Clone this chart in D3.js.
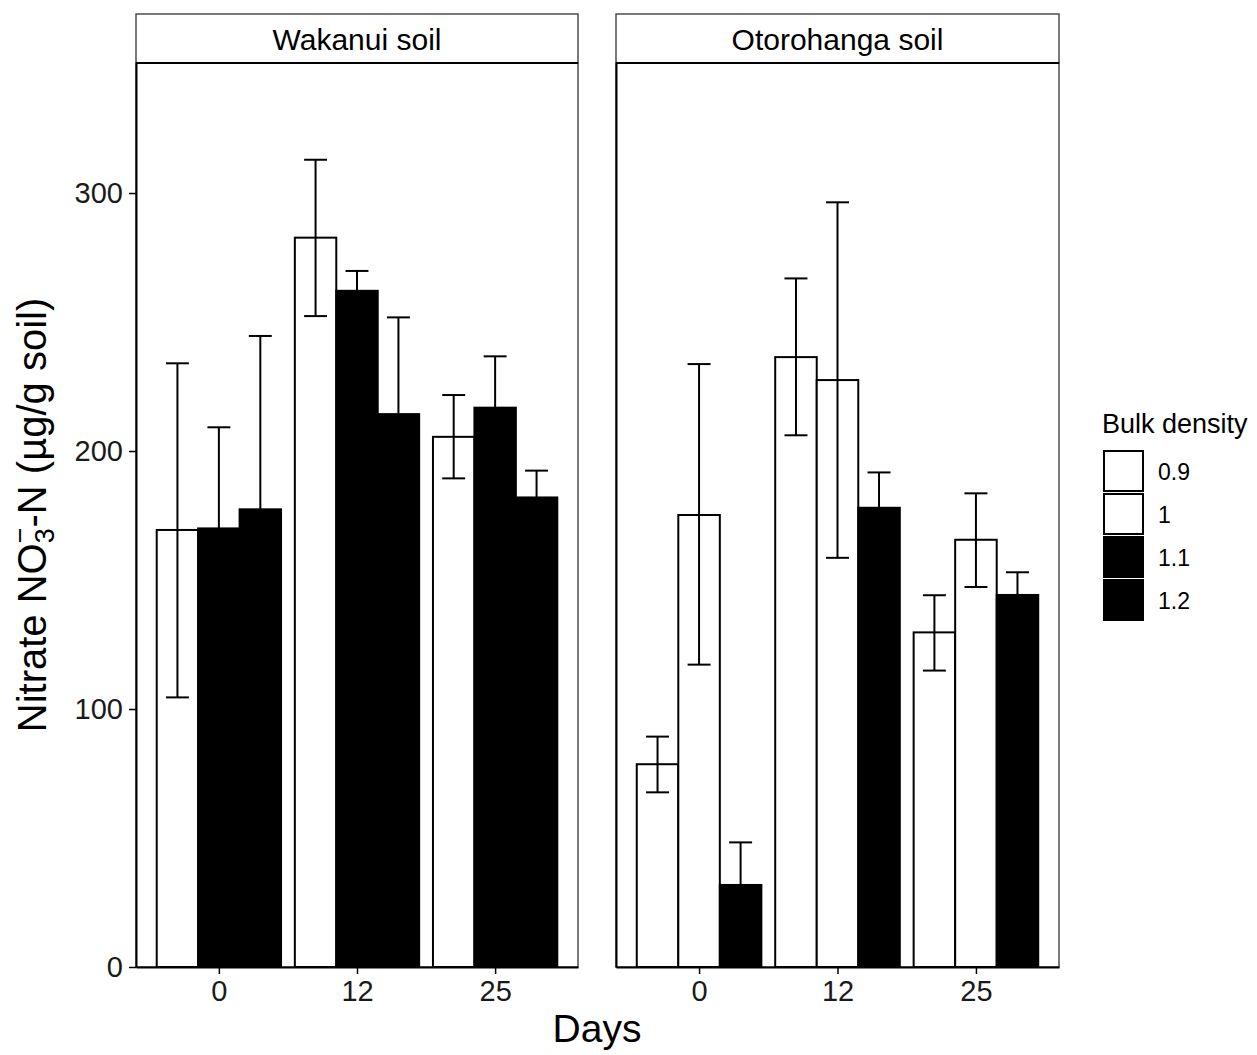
<!DOCTYPE html>
<html>
<head>
<meta charset="utf-8">
<script src="https://cdn.jsdelivr.net/npm/d3@7"></script>
<style>
  body { margin: 0; background: #fff; }
  text { font-family: "Liberation Sans", Arial, sans-serif; }
</style>
</head>
<body>
<div id="chart"></div>
<script>
// data
const soils = ["Wakanui soil", "Otorohanga soil"];
const days = ["0", "12", "25"];
const densities = ["0.9", "1", "1.1", "1.2"];

// bulk density shown in each of the 3 dodge slots
const wakDensity = ["0.9", "1.1", "1.2"];
const otoDensity = ["0.9", "1", "1.1"];

// rows = days, cols = slots
const wakMean  = [[169.4, 170.0, 177.4], [282.7, 262.1, 214.3], [205.5, 216.8, 182.0]];
const wakLower = [[104.5, 131.0, 110.0], [252.3, 254.4, 176.8], [189.4, 196.9, 171.6]];
const wakUpper = [[234.0, 209.2, 244.6], [312.9, 269.8, 251.8], [221.7, 236.7, 192.4]];

const otoMean  = [[78.6, 175.2, 31.8], [236.4, 227.5, 178.0], [129.7, 165.6, 144.2]];
const otoLower = [[67.7, 117.2, 15.3], [206.1, 158.6, 164.3], [114.9, 147.3, 135.4]];
const otoUpper = [[89.3, 233.7, 48.3], [266.9, 296.4, 191.7], [144.1, 183.6, 153.0]];

const yTicks = [0, 100, 200, 300];

// layout
const W = 1257, H = 1055;
const panelTop = 63, panelBottom = 967;
const stripTop = 14;
const panelX = [[136, 578], [616, 1059]];

const svg = d3.select("#chart").append("svg")
    .attr("width", W)
    .attr("height", H);

const y = d3.scaleLinear()
    .domain([0, 350.4])
    .range([panelBottom, panelTop]);

const fill = d3.scaleOrdinal()
    .domain(densities)
    .range(["white", "white", "black", "black"]);

const panels = [
  {name: soils[0], dens: wakDensity, mean: wakMean, lo: wakLower, hi: wakUpper},
  {name: soils[1], dens: otoDensity, mean: otoMean, lo: otoLower, hi: otoUpper}
];

panels.forEach((p, pi) => {
  const [x0, x1] = panelX[pi];
  const x = d3.scalePoint().domain(days).range([x0, x1]).padding(0.6);
  const step = x.step();
  const slot = d3.scaleBand().domain([0, 1, 2]).range([-0.45 * step, 0.45 * step]);

  const g = svg.append("g");

  // panel background + border
  g.append("rect")
      .attr("x", x0).attr("y", panelTop)
      .attr("width", x1 - x0).attr("height", panelBottom - panelTop)
      .attr("fill", "white")
      .attr("stroke", "#333").attr("stroke-width", 1.3);

  // strip
  g.append("rect")
      .attr("x", x0).attr("y", stripTop)
      .attr("width", x1 - x0).attr("height", panelTop - stripTop)
      .attr("fill", "white")
      .attr("stroke", "#333").attr("stroke-width", 1.3);
  g.append("line")
      .attr("x1", x0).attr("x2", x1)
      .attr("y1", panelTop).attr("y2", panelTop)
      .attr("stroke", "black").attr("stroke-width", 2.2);
  g.append("text")
      .attr("x", (x0 + x1) / 2).attr("y", 50)
      .attr("text-anchor", "middle")
      .style("font-size", "30px")
      .attr("fill", "black")
      .text(p.name);

  // bars
  const bars = [];
  days.forEach((d, di) => {
    p.dens.forEach((den, si) => {
      bars.push({day: d, slot: si, dens: den,
                 mean: p.mean[di][si], lo: p.lo[di][si], hi: p.hi[di][si]});
    });
  });

  g.selectAll("rect.bar")
    .data(bars)
    .join("rect")
      .attr("class", "bar")
      .attr("x", d => x(d.day) + slot(d.slot))
      .attr("y", d => y(d.mean))
      .attr("width", slot.bandwidth())
      .attr("height", d => y(0) - y(d.mean))
      .attr("fill", d => fill(d.dens))
      .attr("stroke", "black")
      .attr("stroke-width", 2);

  // error bars
  const capHalf = step * 0.083;
  const eb = g.selectAll("g.err")
    .data(bars)
    .join("g")
      .attr("class", "err")
      .attr("transform", d => `translate(${x(d.day) + slot(d.slot) + slot.bandwidth() / 2},0)`);
  eb.append("line")
      .attr("y1", d => y(d.lo)).attr("y2", d => y(d.hi))
      .attr("stroke", "black").attr("stroke-width", 2);
  eb.append("line")
      .attr("x1", -capHalf).attr("x2", capHalf)
      .attr("y1", d => y(d.hi)).attr("y2", d => y(d.hi))
      .attr("stroke", "black").attr("stroke-width", 2);
  eb.append("line")
      .attr("x1", -capHalf).attr("x2", capHalf)
      .attr("y1", d => y(d.lo)).attr("y2", d => y(d.lo))
      .attr("stroke", "black").attr("stroke-width", 2);

  // x axis
  const xAxis = g.append("g")
      .attr("transform", `translate(0,${panelBottom})`)
      .call(d3.axisBottom(x).tickSize(7).tickSizeOuter(0).tickPadding(6));
  xAxis.select(".domain").attr("stroke", "black").attr("stroke-width", 2);
  xAxis.selectAll(".tick line").attr("stroke", "black").attr("stroke-width", 1.5);
  xAxis.selectAll(".tick text")
      .style("font-size", "29px")
      .attr("fill", "#1a1a1a")
      .attr("font-family", "Liberation Sans, Arial, sans-serif");

  // y axis line (only ticks on first panel)
  const yAxis = g.append("g")
      .attr("transform", `translate(${x0},0)`)
      .call(d3.axisLeft(y).tickValues(pi === 0 ? yTicks : []).tickSize(7).tickSizeOuter(0).tickPadding(6));
  yAxis.select(".domain").attr("stroke", "black").attr("stroke-width", 2);
  yAxis.selectAll(".tick line").attr("stroke", "black").attr("stroke-width", 1.5);
  yAxis.selectAll(".tick text")
      .style("font-size", "29px")
      .attr("fill", "#1a1a1a")
      .attr("font-family", "Liberation Sans, Arial, sans-serif");
});

// axis titles
svg.append("text")
    .attr("x", 597).attr("y", 1042)
    .attr("text-anchor", "middle")
    .style("font-size", "39px")
    .text("Days");

const yt = svg.append("text")
    .attr("transform", "translate(46,515) rotate(-90)")
    .attr("text-anchor", "middle")
    .style("font-size", "40px");
yt.append("tspan").text("Nitrate NO");
yt.append("tspan").attr("dy", 8).style("font-size", "27px").text("3");
yt.append("tspan").attr("dx", -15).attr("dy", -25).style("font-size", "27px").text("\u2212");
yt.append("tspan").attr("dy", 17).text("-N (\u00b5g/g soil)");

// legend
const leg = svg.append("g");
leg.append("text")
    .attr("x", 1102).attr("y", 433)
    .style("font-size", "27px")
    .text("Bulk density");
const keyH = 43;
const li = leg.selectAll("g.key")
  .data(densities)
  .join("g")
    .attr("class", "key")
    .attr("transform", (d, i) => `translate(1103,${450 + i * keyH})`);
li.append("rect")
    .attr("x", 1).attr("y", 1)
    .attr("width", 39).attr("height", keyH - 3)
    .attr("fill", d => fill(d))
    .attr("stroke", "black").attr("stroke-width", 2);
li.append("text")
    .attr("x", 55).attr("y", keyH / 2)
    .attr("dominant-baseline", "central")
    .style("font-size", "23px")
    .text(d => d);
</script>
</body>
</html>
